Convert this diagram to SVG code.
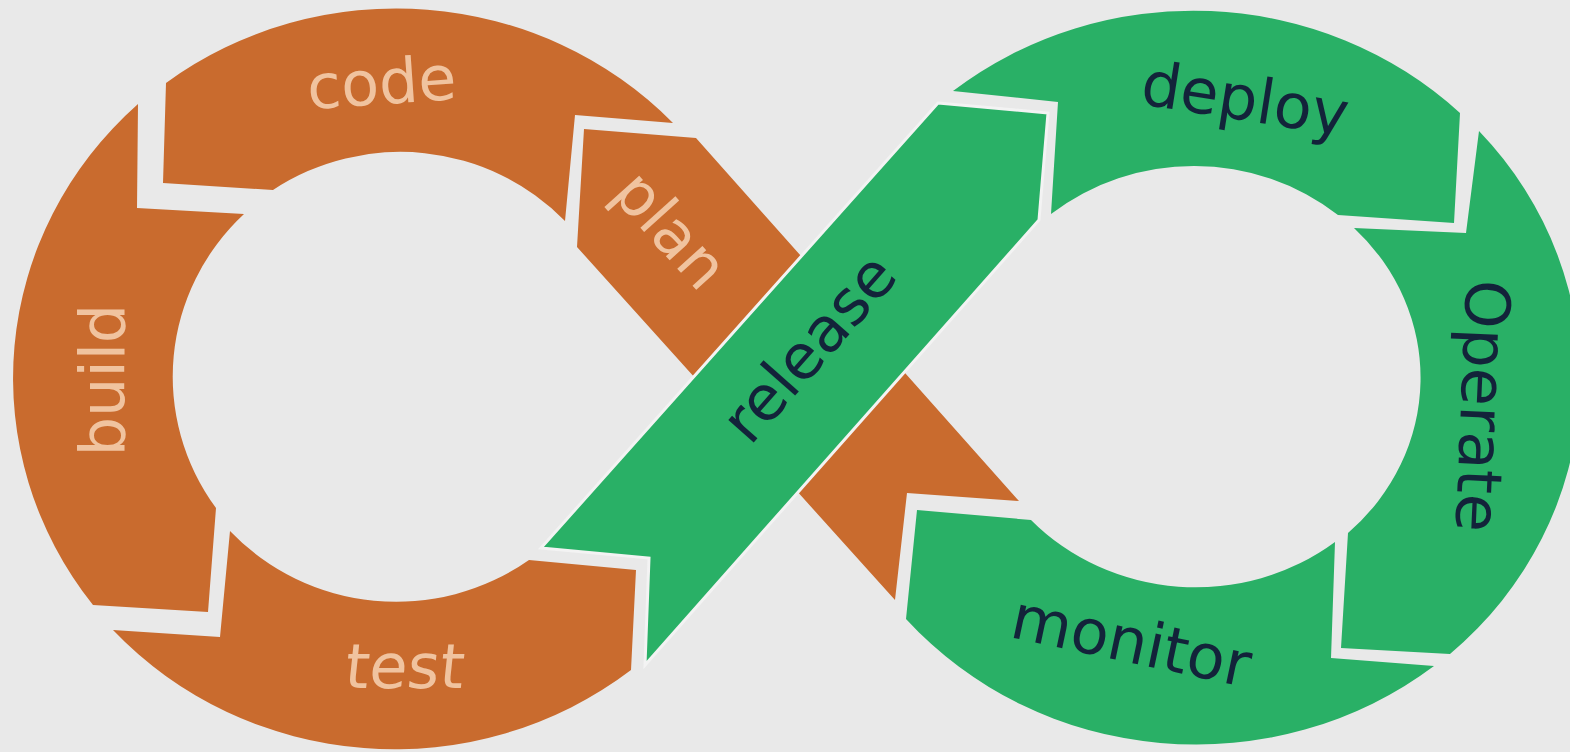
<svg xmlns="http://www.w3.org/2000/svg" width="1570" height="752" viewBox="0 0 1570 752">
<style>
.bg{fill:#e9e9e9}
.or{fill:#c96b2e}
.gr{fill:#29b066}
.rel{fill:#29b066;stroke:#f3f3f3;stroke-width:3;stroke-linejoin:miter}
.lo{font-family:"DejaVu Sans",sans-serif;font-size:62px;fill:#f0c39f;text-anchor:middle}
.lg{font-family:"DejaVu Sans",sans-serif;font-size:62px;fill:#13233a;text-anchor:middle}
</style>
<rect class="bg" x="0" y="0" width="1570" height="752"/>
<g id="code">
<path class="or" d="M166,83 A383,371 0 0 1 673,123 L575,115 L565,221 A228,224 0 0 0 273,190 L163,183 Z"/>
<text class="lo" x="383" y="104" transform="rotate(-4 383 104)">code</text>
</g>
<g id="build">
<path class="or" d="M138,104 L137,208 L244,214 A228,224 0 0 0 216,508 L208,612 L93,605 A383,371 0 0 1 138,104 Z"/>
<text class="lo" x="124" y="380" transform="rotate(-90 124 380)">build</text>
</g>
<g id="test">
<path class="or" d="M230,531 L220,637 L113,630 A383,371 0 0 0 631,670 L636,570 L529,560 A228,224 0 0 1 230,531 Z"/>
<text class="lo" x="403" y="688" transform="skewX(-6) translate(72 0)">test</text>
</g>
<g id="plan">
<path class="or" d="M584,129 L696,138 L1019,501 L907,493 L895,600 L577,247 Z"/>
<text class="lo" x="655" y="244" transform="rotate(48 655 244)">plan</text>
</g>
<g id="release">
<path class="rel" d="M938,103 L1048,113 L1039,220 L645,665 L649,558 L541,548 Z"/>
<text class="lg" x="825" y="362" transform="rotate(-48.5 825 362)">release</text>
</g>
<g id="deploy">
<path class="gr" d="M953,91 L1058,102 L1051,214 A225,211 0 0 1 1338,215 L1454,223 L1460,113 A385,367 0 0 0 953,91 Z"/>
<text class="lg" x="1242" y="120" transform="rotate(9 1242 120)">deploy</text>
</g>
<g id="operate">
<path class="gr" d="M1479,131 L1466,233 L1354,228 A225,211 0 0 1 1348,533 L1341,648 L1450,654 A385,367 0 0 0 1479,131 Z"/>
<text class="lg" x="1461" y="405" transform="rotate(92.5 1461 405)">Operate</text>
</g>
<g id="monitor">
<path class="gr" d="M917,510 L1031,520 A225,211 0 0 0 1335,542 L1331,658 L1434,666 A385,367 0 0 1 906,619 Z"/>
<text class="lg" x="1127" y="662" transform="rotate(12 1127 662)">monitor</text>
</g>
<g id="connectors"></g>
</svg>
